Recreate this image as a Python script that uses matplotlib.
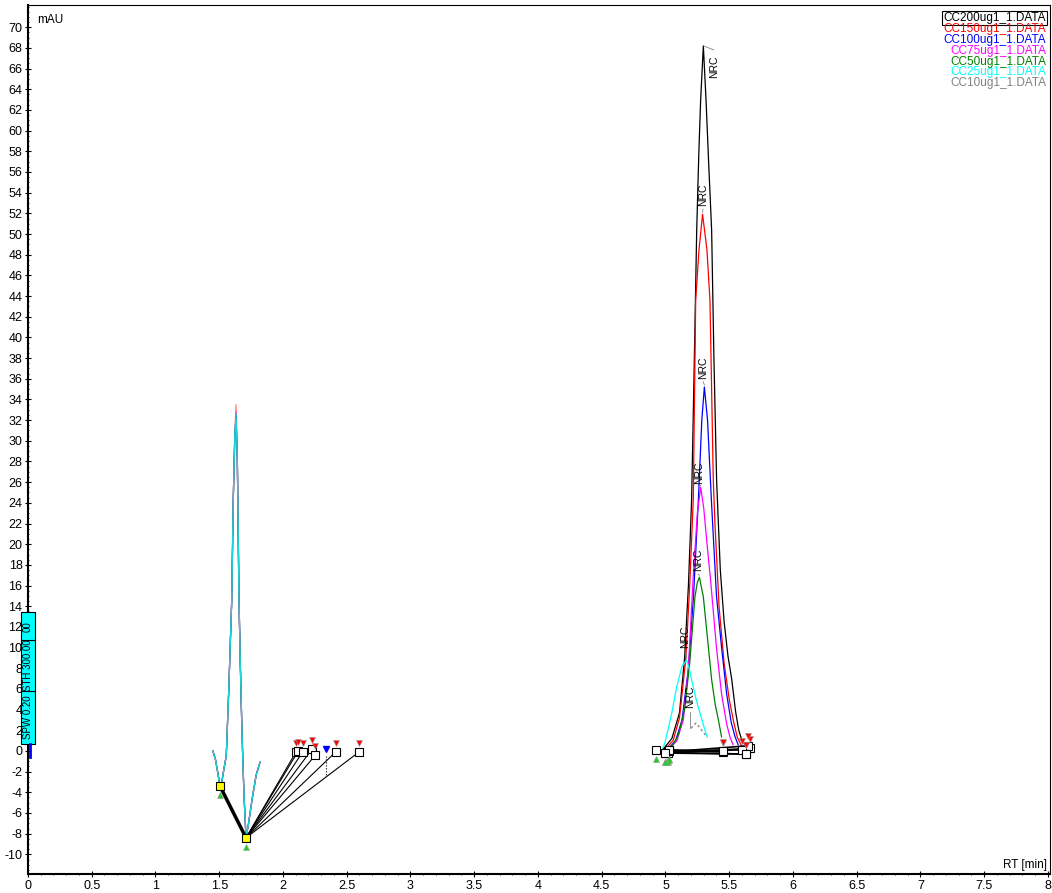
# Chromatogram overlay: calibration standards CC10..CC200
import matplotlib
matplotlib.use("Agg")
import matplotlib.pyplot as plt
from matplotlib.patches import Rectangle
from matplotlib.ticker import MultipleLocator

plt.rcParams['font.family'] = ['Liberation Sans', 'DejaVu Sans']
plt.rcParams['axes.unicode_minus'] = False

# Series
names = ['CC200ug1_1.DATA', 'CC150ug1_1.DATA', 'CC100ug1_1.DATA', 'CC75ug1_1.DATA',
         'CC50ug1_1.DATA', 'CC25ug1_1.DATA', 'CC10ug1_1.DATA']
legend_colors = ['black', 'red', 'blue', 'magenta', 'green', 'cyan', 'gray']

# First peak (all standards nearly identical), shared profile + apex per series
peak1_rt = [1.45, 1.47, 1.49, 1.506, 1.52, 1.54, 1.555, 1.575, 1.598, 1.61, 1.622,
            1.632, 1.642, 1.655, 1.666, 1.676, 1.684, 1.695, 1.71, 1.73, 1.76, 1.79, 1.82]
peak1_mau = [0.0, -0.8, -2.2, -3.5, -3.0, -1.5, -0.5, 6.0, 14.6, 24.3, 30.5,
             33.0, 28.0, 14.6, 8.0, 3.0, -0.5, -4.5, -8.4, -7.0, -4.5, -2.3, -1.1]
peak1_apex = [32.4, 33.5, 32.6, 32.8, 32.3, 32.6, 32.0]
peak1_apex_idx = 11

# Second peak, one list per standard
rt_200 = [4.99, 5.05, 5.11, 5.15, 5.18, 5.205, 5.225, 5.245, 5.262, 5.276, 5.297,
          5.318, 5.34, 5.362, 5.38, 5.401, 5.43, 5.46, 5.49, 5.52, 5.55, 5.575, 5.60, 5.64]
mau_200 = [0.3, 1.2, 3.7, 9.0, 16.0, 24.3, 37.0, 50.4, 58.0, 63.0, 68.2,
           63.0, 56.5, 50.4, 38.0, 26.2, 17.5, 12.5, 9.2, 6.9, 3.8, 2.0, 1.0, 0.3]
rt_150 = [5.00, 5.06, 5.11, 5.16, 5.19, 5.218, 5.237, 5.263, 5.291, 5.325, 5.349,
          5.375, 5.388, 5.42, 5.46, 5.50, 5.535, 5.563, 5.60]
mau_150 = [0.2, 1.0, 3.2, 9.0, 16.0, 24.3, 43.6, 48.5, 51.9, 48.5, 43.6,
           26.2, 22.0, 14.0, 8.5, 5.0, 2.8, 1.35, 0.4]
rt_100 = [5.02, 5.08, 5.13, 5.18, 5.22, 5.258, 5.285, 5.305, 5.33, 5.36, 5.40,
          5.44, 5.48, 5.515, 5.545, 5.57]
mau_100 = [0.2, 1.0, 3.0, 8.0, 15.0, 24.3, 32.0, 35.2, 32.0, 24.3, 15.0,
           10.0, 5.5, 2.8, 1.4, 0.6]
rt_75 = [5.03, 5.09, 5.14, 5.18, 5.216, 5.25, 5.276, 5.30, 5.33, 5.354, 5.40,
         5.44, 5.48, 5.506, 5.53]
mau_75 = [0.2, 1.0, 3.0, 8.0, 16.5, 23.0, 25.5, 23.5, 19.5, 16.5, 10.0,
          5.5, 2.6, 1.35, 0.6]
rt_50 = [5.04, 5.10, 5.15, 5.19, 5.231, 5.25, 5.266, 5.297, 5.323, 5.362, 5.39,
         5.415, 5.44]
mau_50 = [0.2, 1.5, 4.0, 8.5, 14.9, 16.3, 16.8, 14.9, 11.7, 6.9, 4.5,
          3.0, 1.35]
rt_25 = [4.98, 4.996, 5.05, 5.088, 5.13, 5.166, 5.19, 5.205, 5.24, 5.27, 5.30, 5.328]
mau_25 = [0.3, 0.8, 3.7, 6.2, 8.2, 8.8, 7.8, 6.9, 5.0, 3.7, 2.4, 1.35]
rt_10 = [5.20, 5.239, 5.26, 5.29, 5.323]
mau_10 = [2.2, 2.7, 2.4, 1.9, 1.4]

peak2_rt = [rt_200, rt_150, rt_100, rt_75, rt_50, rt_25, rt_10]
peak2_mau = [mau_200, mau_150, mau_100, mau_75, mau_50, mau_25, mau_10]

# NRC peak labels (x, y of text centre) and apex each belongs to
nrc_x = [5.38, 5.294, 5.296, 5.265, 5.257, 5.158, 5.19]
nrc_y = [66.2, 53.8, 37.1, 26.9, 18.5, 11.0, 5.2]
apex_x = [5.297, 5.291, 5.305, 5.276, 5.266, 5.166, 5.19]
apex_y = [68.2, 51.9, 35.2, 25.5, 16.8, 8.8, 2.0]

# Peak 1 integration baselines
p1_start = (1.506, -3.4)
p1_end = (1.71, -8.4)
p1_marks_rt = [2.102, 2.12, 2.154, 2.227, 2.254, 2.413, 2.596]
p1_marks_mau = [-0.1, 0.0, -0.1, 0.16, -0.4, -0.1, -0.1]
p1_dot_rt = 2.337

# Peak 2 integration baselines
p2_start_rt = [5.00, 5.01, 5.02, 5.03, 5.03, 4.925, 4.996]
p2_start_mau = [-0.2, -0.1, -0.15, 0.0, 0.1, 0.1, -0.2]
p2_end_rt = [5.663, 5.645, 5.631, 5.60, 5.449, 5.449, 5.631]
p2_end_mau = [0.25, 0.5, -0.3, 0.1, -0.1, 0.0, -0.3]

fig = plt.figure(figsize=(10.52, 8.93), dpi=100)
ax = fig.add_axes([28/1052, 19/893, 1022/1052, 869/893])

series_order = [0, 1, 2, 3, 4, 6, 5]   # draw cyan last on the first peak
for i in series_order:
    c = legend_colors[i]
    y1 = list(peak1_mau)
    y1[peak1_apex_idx] = peak1_apex[i]
    ax.plot(peak1_rt, y1, color=c, lw=0.9, alpha=0.75 if c == 'cyan' else 0.5, zorder=3)
    ls = (0, (2, 2)) if c == 'gray' else '-'
    ax.plot(peak2_rt[i], peak2_mau[i], color=c, lw=0.9, ls=ls, zorder=3)

# NRC labels with leaders
for i in range(len(nrc_x)):
    if i == 0:
        ax.plot([apex_x[i], nrc_x[i], nrc_x[i]], [apex_y[i], apex_y[i] - 0.4, nrc_y[i] + 1.6],
                color='gray', lw=0.6, zorder=4)
    else:
        ax.plot([apex_x[i], nrc_x[i]], [apex_y[i] + 0.2, nrc_y[i] - 1.4],
                color='gray', lw=0.6, zorder=4)
    ax.text(nrc_x[i], nrc_y[i], 'NRC', rotation=90, ha='center', va='center',
            fontsize=7.5, zorder=5)

# peak 1 baselines
ax.plot([p1_start[0], p1_end[0]], [p1_start[1], p1_end[1]], color='black', lw=2.5, zorder=4)
for x, y in zip(p1_marks_rt, p1_marks_mau):
    ax.plot([p1_end[0], x], [p1_end[1], y], color='black', lw=0.8, zorder=4)
ax.plot(p1_marks_rt, p1_marks_mau, 's', ms=6, mfc='white', mec='black', mew=0.8, zorder=5)
ax.plot(p1_marks_rt, [v + 0.9 for v in p1_marks_mau], 'v', ms=4, color='red',
        mec='#999999', mew=0.4, zorder=5)
ax.plot([p1_start[0], p1_end[0]], [p1_start[1], p1_end[1]], 's', ms=6, mfc='yellow',
        mec='black', mew=0.8, zorder=6)
ax.plot([p1_start[0], p1_end[0]], [p1_start[1] - 0.9, p1_end[1] - 0.9], '^', ms=4,
        color='#22cc22', mec='#999999', mew=0.4, zorder=5)
ax.plot([p1_dot_rt, p1_dot_rt], [-0.5, -2.3], color='black', lw=0.8, ls=':', zorder=4)
ax.plot([p1_dot_rt], [0.2], 'v', ms=4, color='blue', zorder=5)

# peak 2 baselines
for i in range(len(p2_start_rt)):
    ax.plot([p2_start_rt[i], p2_end_rt[i]], [p2_start_mau[i], p2_end_mau[i]],
            color='black', lw=1.2, zorder=4)
ax.plot(p2_start_rt, p2_start_mau, 's', ms=6, mfc='white', mec='black', mew=0.8, zorder=5)
ax.plot(p2_end_rt, p2_end_mau, 's', ms=6, mfc='white', mec='black', mew=0.8, zorder=5)
ax.plot(p2_end_rt, [v + 0.9 for v in p2_end_mau], 'v', ms=4, color='red',
        mec='#999999', mew=0.4, zorder=5)
ax.plot(p2_start_rt, [v - 0.9 for v in p2_start_mau], '^', ms=4, color='#22cc22',
        mec='#999999', mew=0.4, zorder=5)

# parameter box on the y axis
box_y = [0.7, 5.8, 10.7, 13.4]
box_txt = ['SPW 0.20', 'STH 300.00', '00']
ax.add_patch(Rectangle((-0.055, box_y[0]), 0.11, box_y[-1] - box_y[0], facecolor='cyan',
                       edgecolor='black', lw=0.8, clip_on=False, zorder=6))
for j in range(1, 3):
    ax.plot([-0.055, 0.055], [box_y[j], box_y[j]], color='black', lw=0.8, clip_on=False, zorder=7)
for j, t in enumerate(box_txt):
    ax.text(0.0, (box_y[j] + box_y[j + 1]) / 2, t, rotation=90, ha='center', va='center',
            fontsize=7, clip_on=False, zorder=7)
ax.plot([0.012, 0.012], [-0.6, 0.7], color='blue', lw=2, clip_on=False, zorder=7)

# legend as coloured text
leg_y = [18, 29, 40, 51, 62, 72, 83]
for n, c, py in zip(names, legend_colors, leg_y):
    kw = {}
    if c == 'black':
        kw['bbox'] = dict(boxstyle='square,pad=0.1', fc='white', ec='black', lw=0.8)
    ax.text(0.996, (874 - py) / 869, n, color=c, ha='right', va='center', fontsize=8.5,
            transform=ax.transAxes, **kw)

ax.text(9/1022, (874 - 20) / 869, 'mAU', ha='left', va='center', fontsize=8.5,
        transform=ax.transAxes)
ax.text(0.997, (874 - 865) / 869, 'RT [min]', ha='right', va='center', fontsize=8.5,
        transform=ax.transAxes)

ax.set_xlim(0, 8.016)
ax.set_ylim(-11.9, 72.15)
ax.xaxis.set_minor_locator(MultipleLocator(0.1))
ax.yaxis.set_minor_locator(MultipleLocator(0.5))
ax.set_xticks([0, 0.5, 1, 1.5, 2, 2.5, 3, 3.5, 4, 4.5, 5, 5.5, 6, 6.5, 7, 7.5, 8])
ax.set_xticklabels(['0', '0.5', '1', '1.5', '2', '2.5', '3', '3.5', '4', '4.5', '5',
                    '5.5', '6', '6.5', '7', '7.5', '8'])
ax.set_yticks(range(-10, 71, 2))
ax.tick_params(axis='both', which='major', labelsize=9, length=4, width=0.8, pad=2,
               direction='inout')
ax.tick_params(axis='both', which='minor', length=2, width=0.6, direction='inout')
ax.spines['left'].set_linewidth(1.5)
ax.spines['bottom'].set_linewidth(1.5)
ax.spines['top'].set_linewidth(0.8)
ax.spines['right'].set_linewidth(0.8)

fig.savefig('out.png', dpi=100)
